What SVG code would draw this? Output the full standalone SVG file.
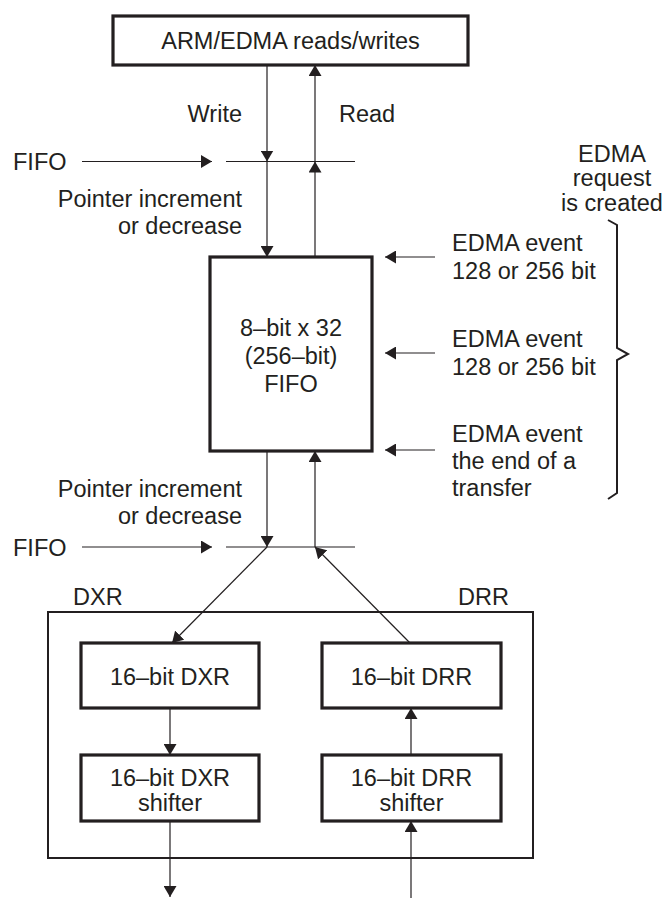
<svg xmlns="http://www.w3.org/2000/svg" width="665" height="898" viewBox="0 0 665 898">
<defs>
<marker id="ah" viewBox="0 0 11 13" refX="11" refY="6.5" markerWidth="11" markerHeight="13" markerUnits="userSpaceOnUse" orient="auto">
<path d="M0,0 L11,6.5 L0,13 Z" fill="#231f20"/>
</marker>
</defs>
<style>
text{font-family:"Liberation Sans",Arial,sans-serif;font-size:23.5px;fill:#231f20}
.m{text-anchor:middle}
.e{text-anchor:end}
.box{fill:#fff;stroke:#231f20;stroke-width:3.2}
.outer{fill:none;stroke:#231f20;stroke-width:2}
.ln{fill:none;stroke:#231f20;stroke-width:1.2}
.arr{fill:none;stroke:#231f20;stroke-width:1.2;marker-end:url(#ah)}
.brace{fill:none;stroke:#231f20;stroke-width:2}
</style>
<rect x="0" y="0" width="665" height="898" fill="#fff"/>

<g id="dxr-drr-block">
<rect class="outer" x="48" y="612" width="485" height="246"/>
<text x="73" y="605">DXR</text>
<text x="458" y="605">DRR</text>
</g>

<g id="connectors">
<line class="arr" x1="267" y1="65" x2="267" y2="161.5"/>
<line class="arr" x1="267" y1="161.5" x2="267" y2="257"/>
<line class="arr" x1="315" y1="257" x2="315" y2="161.5"/>
<line class="arr" x1="315" y1="161.5" x2="315" y2="65"/>
<line class="arr" x1="82" y1="161.5" x2="212" y2="161.5"/>
<line class="ln" x1="226" y1="161.5" x2="355" y2="161.5"/>
<line class="arr" x1="435" y1="257" x2="385" y2="257"/>
<line class="arr" x1="435" y1="353" x2="385" y2="353"/>
<line class="arr" x1="435" y1="450" x2="385" y2="450"/>
<line class="arr" x1="267" y1="451" x2="267" y2="547"/>
<line class="arr" x1="315" y1="547" x2="315" y2="451"/>
<line class="arr" x1="82" y1="547" x2="212" y2="547"/>
<line class="ln" x1="226" y1="547" x2="355" y2="547"/>
<line class="arr" x1="267" y1="547" x2="172" y2="643"/>
<line class="arr" x1="410" y1="643" x2="315" y2="547"/>
<line class="arr" x1="170" y1="708" x2="170" y2="755"/>
<line class="arr" x1="411" y1="755" x2="411" y2="708"/>
<line class="arr" x1="170" y1="821" x2="170" y2="897"/>
<line class="arr" x1="411" y1="898" x2="411" y2="821"/>
<path class="brace" d="M608,220 L617,225 L617,348 L628,354 L617,360 L617,493 L608,499"/>
</g>

<g id="arm-edma">
<rect class="box" x="113" y="16" width="355" height="49"/>
<text class="m" x="290.5" y="48.5">ARM/EDMA reads/writes</text>
</g>

<g id="labels-top">
<text class="e" x="242" y="121.5">Write</text>
<text x="339" y="121.5">Read</text>
<text x="13" y="170">FIFO</text>
<text class="e" x="242" y="206.5">Pointer increment</text>
<text class="e" x="242" y="233.5">or decrease</text>
</g>

<g id="edma-request">
<text class="m" x="612" y="161.5">EDMA</text>
<text class="m" x="612" y="185.5">request</text>
<text class="m" x="612" y="210.5">is created</text>
</g>

<g id="fifo">
<rect class="box" x="210" y="257" width="162" height="194"/>
<text class="m" x="291" y="335.5">8–bit x 32</text>
<text class="m" x="291" y="363.5">(256–bit)</text>
<text class="m" x="291" y="391.5">FIFO</text>
</g>

<g id="edma-events">
<text x="452" y="250.5">EDMA event</text>
<text x="452" y="278.5">128 or 256 bit</text>
<text x="452" y="346.5">EDMA event</text>
<text x="452" y="375">128 or 256 bit</text>
<text x="452" y="441.5">EDMA event</text>
<text x="452" y="468.5">the end of a</text>
<text x="452" y="495.5">transfer</text>
</g>

<g id="labels-bottom">
<text class="e" x="242" y="496.5">Pointer increment</text>
<text class="e" x="242" y="523.5">or decrease</text>
<text x="13" y="555.5">FIFO</text>
</g>

<g id="dxr">
<rect class="box" x="81" y="643" width="178" height="65"/>
<text class="m" x="170" y="684.5">16–bit DXR</text>
</g>

<g id="drr">
<rect class="box" x="322" y="643" width="179" height="65"/>
<text class="m" x="411.5" y="684.5">16–bit DRR</text>
</g>

<g id="dxr-shifter">
<rect class="box" x="81" y="755" width="178" height="66"/>
<text class="m" x="170" y="785.5">16–bit DXR</text>
<text class="m" x="170" y="810.5">shifter</text>
</g>

<g id="drr-shifter">
<rect class="box" x="322" y="755" width="179" height="66"/>
<text class="m" x="411.5" y="785.5">16–bit DRR</text>
<text class="m" x="411.5" y="810.5">shifter</text>
</g>
</svg>
